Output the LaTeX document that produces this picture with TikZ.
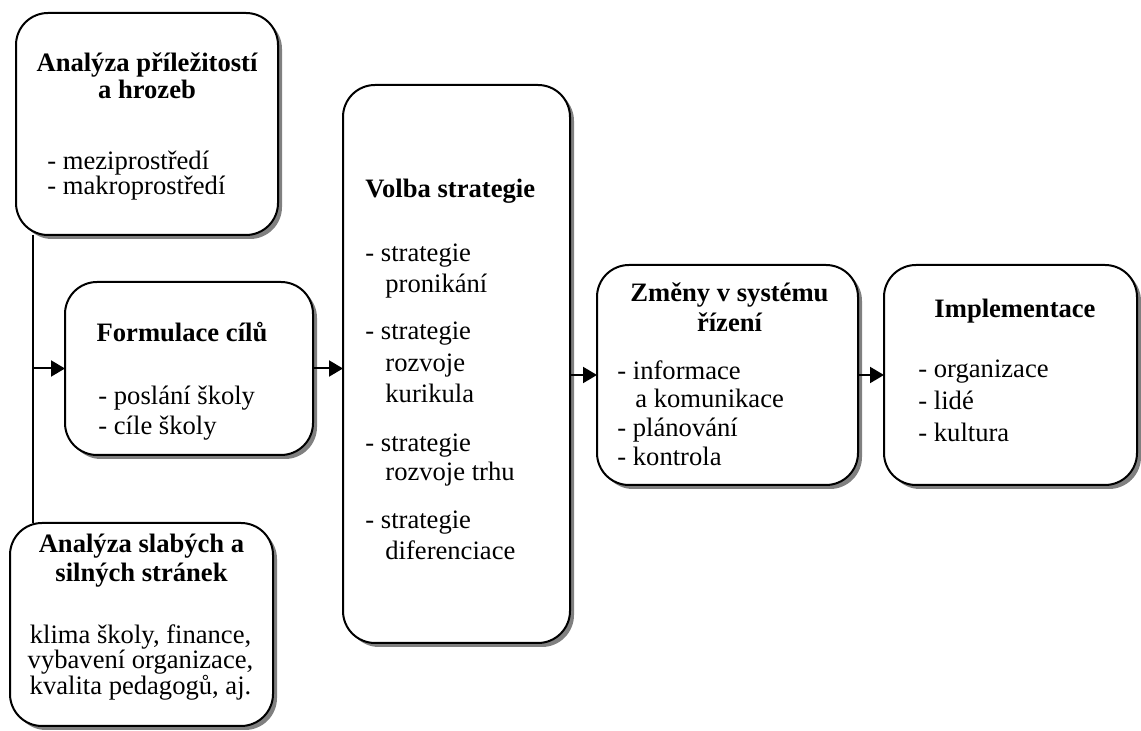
\documentclass[tikz,border=0pt]{standalone}
\usepackage{fontspec}
\setmainfont{Liberation Serif}
\usetikzlibrary{arrows.meta,shadows}
\begin{document}
\begin{tikzpicture}[x=0.5pt,y=-0.5pt,
 box/.style={draw=black, line width=1pt, rounded corners=16pt, fill=white,
   drop shadow={shadow xshift=2pt, shadow yshift=-2pt, fill=black!50, opacity=1},
   inner sep=0pt, outer sep=0pt},
 ttl/.style={font=\fontsize{13.3}{14}\selectfont\bfseries, anchor=base, inner sep=0pt},
 ttlw/.style={font=\fontsize{13.3}{14}\selectfont\bfseries, anchor=base west, inner sep=0pt},
 itm/.style={font=\fontsize{13.3}{14}\selectfont, anchor=base west, inner sep=0pt},
 ctr/.style={font=\fontsize{13.3}{14}\selectfont, anchor=base, inner sep=0pt},
 conn/.style={line width=1pt, -{Triangle[length=7pt,width=8pt]}},
 plain/.style={line width=1pt},
]
\useasboundingbox (0,0) rectangle (1141,731);

% boxes
\node[box, minimum width=131pt, minimum height=111pt] (A) at (147,124) {};
\node[box, minimum width=124pt, minimum height=86.5pt] (B) at (189,368.5) {};
\node[box, minimum width=131.5pt, minimum height=101.5pt] (C) at (141.5,624.5) {};
\node[box, minimum width=113.5pt, minimum height=279pt] (D) at (456.5,364) {};
\node[box, minimum width=130.5pt, minimum height=110pt] (E) at (727.5,375) {};
\node[box, minimum width=126.5pt, minimum height=110pt] (F) at (1010.5,375) {};

% box A text
\node[ttl] (a1) at (147,72) {Analýza příležitostí};
\node[ttl] (a2) at (147,99) {a hrozeb};
\node[itm] (a3) at (47,170) {- meziprostředí};
\node[itm] (a4) at (47,195) {- makroprostředí};

% box B text
\node[ttl] (b1) at (182,342) {Formulace cílů};
\node[itm] (b2) at (98,405) {- poslání školy};
\node[itm] (b3) at (98,435) {- cíle školy};

% box C text
\node[ttl] (c1) at (141.5,553) {Analýza slabých a};
\node[ttl] (c2) at (141.5,582) {silných stránek};
\node[ctr] (c3) at (140.5,643.5) {klima školy, finance,};
\node[ctr] (c4) at (140.5,669) {vybavení organizace,};
\node[ctr] (c5) at (140.5,694.5) {kvalita pedagogů, aj.};

% box D text
\node[ttlw] (d0) at (365,198) {Volba strategie};
\node[itm] (d1) at (365,262) {- strategie};
\node[itm] (d2) at (385,293) {pronikání};
\node[itm] (d3) at (365,340) {- strategie};
\node[itm] (d4) at (385,371.5) {rozvoje};
\node[itm] (d5) at (385,403) {kurikula};
\node[itm] (d6) at (365,452) {- strategie};
\node[itm] (d7) at (385,481) {rozvoje trhu};
\node[itm] (d8) at (365,529) {- strategie};
\node[itm] (d9) at (385,560) {diferenciace};

% box E text
\node[ttl] (e1) at (729.5,302) {Změny v systému};
\node[ttl] (e2) at (729.5,332) {řízení};
\node[itm] (e3) at (617,380) {- informace};
\node[itm] (e4) at (635,408) {a komunikace};
\node[itm] (e5) at (617,437) {- plánování};
\node[itm] (e6) at (617,466) {- kontrola};

% box F text
\node[ttl] (f1) at (1015,318) {Implementace};
\node[itm] (f2) at (918,378) {- organizace};
\node[itm] (f3) at (918,410) {- lidé};
\node[itm] (f4) at (918,442) {- kultura};

% connectors
\coordinate (L) at (33,370);
\draw[plain] (A.south -| L) -- (C.north -| L);
\draw[conn] (B.west -| L) -- (B.west);
\draw[conn] (B.east) -- (B.east -| D.west);
\draw[conn] (E.west -| D.east) -- (E.west);
\draw[conn] (E.east) -- (F.west);
\end{tikzpicture}
\end{document}
